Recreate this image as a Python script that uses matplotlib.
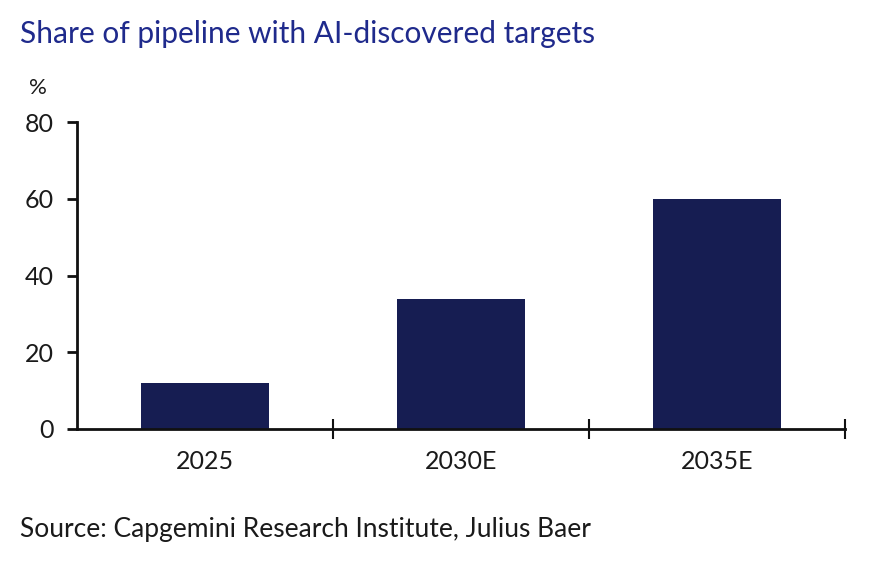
import matplotlib
matplotlib.use("Agg")
import matplotlib.pyplot as plt
import numpy as np

categories = ["2025", "2030E", "2035E"]
values = [12, 34, 60]
yticks = [0, 20, 40, 60, 80]

plt.rcParams['font.family'] = ['Lato', 'DejaVu Sans']

fig = plt.figure(figsize=(8.69, 5.64), dpi=100)
ax = fig.add_axes([77/869, 1-429/564, (845-77)/869, (429-122)/564])

x = np.arange(len(categories))
ax.bar(x, values, width=0.5, color="#161d52", zorder=2)
ax.set_xlim(-0.5, len(categories)-0.5)
ax.set_ylim(0, 80)
ax.set_yticks(yticks)
ax.set_yticklabels([str(t) for t in yticks], fontsize=18, color="#1a1a1a")
ax.set_xticks(x)
ax.set_xticklabels(categories, fontsize=18, color="#1a1a1a")
ax.tick_params(axis='x', length=0, pad=15)
ax.set_xticks(np.arange(len(categories)) + 0.5, minor=True)
ax.tick_params(axis='x', which='minor', length=14, width=1.5, direction='inout', color="#111111")
ax.tick_params(axis='y', length=7, width=2, direction='out', pad=10, color="#111111")
for s in ['top', 'right']:
    ax.spines[s].set_visible(False)
ax.spines['left'].set_linewidth(2)
ax.spines['bottom'].set_linewidth(2)
ax.spines['left'].set_color("#111111")
ax.spines['bottom'].set_color("#111111")

fig.text(20/869, 1-34/564, "Share of pipeline with AI-discovered targets", fontsize=21.5,
         color="#1f2a8c", ha='left', va='center')
fig.text(29/869, 1-88/564, "%", fontsize=16, color="#1a1a1a", ha='left', va='center')
fig.text(20/869, 1-530/564, "Source: Capgemini Research Institute, Julius Baer", fontsize=19,
         color="#1a1a1a", ha='left', va='center')

fig.savefig("out.png", dpi=100)
